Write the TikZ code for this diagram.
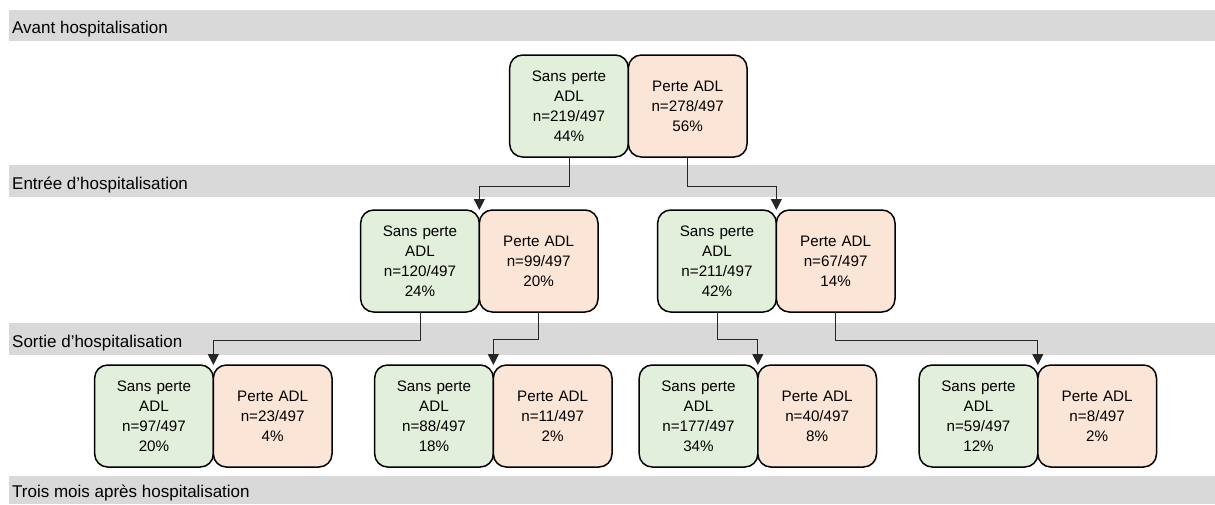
\documentclass[tikz,border=0pt]{standalone}
\usepackage{fontspec}
\setmainfont{Liberation Sans}
\usetikzlibrary{positioning, arrows.meta}

\definecolor{vertADL}{HTML}{E2EFDA}
\definecolor{orangeADL}{HTML}{FBE5D6}
\definecolor{grisBande}{HTML}{D9D9D9}

\tikzset{
	boite/.style={draw=black, line width=1.5pt, rounded corners=13pt, outer sep=0pt,
		minimum width=118pt, minimum height=102pt, text width=112pt, align=center,
		font=\fontsize{15.2}{20}\selectfont},
	sans/.style={boite, fill=vertADL},
	perte/.style={boite, fill=orangeADL},
	bande/.style={fill=grisBande},
	etiquette/.style={anchor=base west, inner sep=0pt, font=\fontsize{17}{20}\selectfont},
	fleche/.style={draw=black!85, line width=1pt, -{Triangle[width=11pt,length=11pt]}}
}

\begin{document}
\begin{tikzpicture}[x=1pt,y=-1pt]
	\useasboundingbox (0,0) rectangle (1215,504);
	
	% bandes grises
	\fill[bande] (9,10) rectangle (1215,41);
	\fill[bande] (9,165) rectangle (1215,197);
	\fill[bande] (9,323) rectangle (1215,355);
	\fill[bande] (9,476) rectangle (1215,504);
	\node[etiquette] (avant) at (12,33) {Avant hospitalisation};
	\node[etiquette] (entree) at (12,189) {Entrée d’hospitalisation};
	\node[etiquette] (sortie) at (12,347) {Sortie d’hospitalisation};
	\node[etiquette] (trois) at (12,497) {Trois mois après hospitalisation};
	
	% avant hospitalisation
	\node[sans] (s0) at (569,106) {Sans perte\\ADL\\n=219/497\\44\%};
	\node[perte, right=0pt of s0] (p0) {Perte ADL\\n=278/497\\56\%};
	
	% entree
	\node[sans] (s1a) at (420,261) {Sans perte\\ADL\\n=120/497\\24\%};
	\node[perte, right=0pt of s1a] (p1a) {Perte ADL\\n=99/497\\20\%};
	\node[sans] (s1b) at (717,261) {Sans perte\\ADL\\n=211/497\\42\%};
	\node[perte, right=0pt of s1b] (p1b) {Perte ADL\\n=67/497\\14\%};
	
	% sortie
	\node[sans] (s2a) at (154,416) {Sans perte\\ADL\\n=97/497\\20\%};
	\node[perte, right=0pt of s2a] (p2a) {Perte ADL\\n=23/497\\4\%};
	\node[sans] (s2b) at (434,416) {Sans perte\\ADL\\n=88/497\\18\%};
	\node[perte, right=0pt of s2b] (p2b) {Perte ADL\\n=11/497\\2\%};
	\node[sans] (s2c) at (698.5,416) {Sans perte\\ADL\\n=177/497\\34\%};
	\node[perte, right=0pt of s2c] (p2c) {Perte ADL\\n=40/497\\8\%};
	\node[sans] (s2d) at (978.5,416) {Sans perte\\ADL\\n=59/497\\12\%};
	\node[perte, right=0pt of s2d] (p2d) {Perte ADL\\n=8/497\\2\%};
	
	% fleches
	\draw[fleche] (s0.south) -- ++(0,29) -| (s1a.north east);
	\draw[fleche] (p0.south) -- ++(0,29) -| (s1b.north east);
	\draw[fleche] (s1a.south) -- ++(0,28) -| (s2a.north east);
	\draw[fleche] (p1a.south) -- ++(0,27) -| (s2b.north east);
	\draw[fleche] (s1b.south) -- ++(0,27) -| (s2c.north east);
	\draw[fleche] (p1b.south) -- ++(0,28) -| (s2d.north east);
\end{tikzpicture}
\end{document}
